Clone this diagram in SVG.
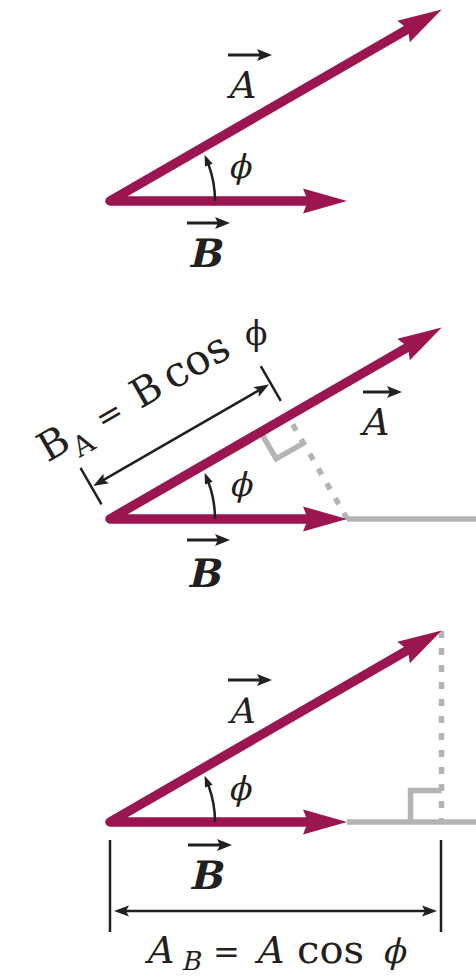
<svg xmlns="http://www.w3.org/2000/svg" xmlns:xlink="http://www.w3.org/1999/xlink" width="476" height="978" viewBox="0 0 476 978">
<style>
.vec{stroke:#9b1550;stroke-width:9.5;fill:none;stroke-linejoin:round;stroke-linecap:round}
.vh{fill:#9b1550}
.grey{stroke:#b4b4b4;stroke-width:5.5;fill:none}
.dash{stroke-dasharray:7 10}
.blk{stroke:#231f20;stroke-width:2.5;fill:none}
.sym{stroke:#231f20;stroke-width:3;fill:none}
.ah{fill:#231f20}
.t{font-family:'DejaVu Serif',serif;fill:#231f20}
.bd{font-weight:bold}
</style>
<defs>
<polygon id="vh" class="vh" points="0,0 -44,-12.5 -39,0 -44,12.5"/>
<polygon id="ah" class="ah" points="0,0 -15,-5.5 -12,0 -15,5.5"/>
<polygon id="sh" class="ah" points="0,0 -15,-6 -12,0 -15,6"/>
<g id="vectors">
<path class="vec" d="M298.8,-172.5 L0,0 L199,0"/>
<use xlink:href="#vh" transform="rotate(-30) translate(383,0)"/>
<use xlink:href="#vh" x="237" y="0"/>
</g>
<g id="angle">
<path class="blk" d="M105,0 A105 105 0 0 0 98.6,-36.2"/>
<polygon class="ah" points="94.6,-46.2 102.6,-37.2 95,-34.6"/>
</g>
</defs>

<!-- Panel 1 -->
<g id="panel1">
<g id="p1-connectors" transform="translate(110,201)">
<use xlink:href="#vectors"/>
<use xlink:href="#angle"/>
</g>
<g id="p1-labelA">
<line class="sym" x1="228" y1="55" x2="260" y2="55"/>
<use xlink:href="#sh" x="272" y="55"/>
<text class="t" transform="translate(227,98) skewX(-13)" font-size="37">A</text>
</g>
<g id="p1-phi"><text class="t" transform="translate(228,178) skewX(-13)" font-size="33">ϕ</text></g>
<g id="p1-labelB">
<line class="sym" x1="187" y1="223" x2="218" y2="223"/>
<use xlink:href="#sh" x="230" y="223"/>
<text class="t bd" transform="translate(188,267) skewX(-13)" font-size="39">B</text>
</g>
</g>

<!-- Panel 2 -->
<g id="panel2">
<g id="p2-connectors" transform="translate(110,519)">
<line class="grey" x1="237" y1="0" x2="370" y2="0"/>
<g transform="rotate(-30)">
<line class="grey dash" x1="205.5" y1="118.5" x2="205.5" y2="0"/>
<path class="grey" d="M174,0 V31 H205.5"/>
</g>
<use xlink:href="#vectors"/>
<use xlink:href="#angle"/>
<g transform="rotate(-30)">
<line class="blk" x1="0" y1="-59" x2="0" y2="-17"/>
<line class="blk" x1="207" y1="-57" x2="207" y2="-17"/>
<line class="blk" x1="12" y1="-37" x2="193" y2="-37"/>
<use xlink:href="#ah" transform="translate(205,-37)"/>
<use xlink:href="#ah" transform="translate(2,-37) rotate(180)"/>
</g>
</g>
<g id="p2-dimlabel" transform="translate(110,519) rotate(-30)">
<text class="t" x="-26" y="-80" font-size="40">B</text>
<text class="t" x="4" y="-68" font-size="28">A</text>
<text class="t" x="38" y="-80" font-size="32">=</text>
<text class="t" x="81" y="-80" font-size="40">B</text>
<text class="t" x="118" y="-80" font-size="42">cos</text>
</g>
<g id="p2-dimphi"><text class="t" x="245" y="345" font-size="33">ϕ</text></g>
<g id="p2-labelA">
<line class="sym" x1="363" y1="392" x2="390" y2="392"/>
<use xlink:href="#sh" x="402" y="392"/>
<text class="t" transform="translate(360,435) skewX(-13)" font-size="37">A</text>
</g>
<g id="p2-phi"><text class="t" transform="translate(229,496) skewX(-13)" font-size="33">ϕ</text></g>
<g id="p2-labelB">
<line class="sym" x1="187" y1="540" x2="218" y2="540"/>
<use xlink:href="#sh" x="230" y="540"/>
<text class="t bd" transform="translate(187,587) skewX(-13)" font-size="39">B</text>
</g>
</g>

<!-- Panel 3 -->
<g id="panel3">
<g id="p3-connectors" transform="translate(110,822)">
<line class="grey" x1="237" y1="0" x2="370" y2="0"/>
<line class="grey dash" x1="331.5" y1="-191" x2="331.5" y2="0"/>
<path class="grey" d="M300.5,0 V-31.5 H331.5"/>
<use xlink:href="#vectors"/>
<use xlink:href="#angle"/>
<line class="blk" x1="0" y1="18" x2="0" y2="110"/>
<line class="blk" x1="331" y1="18" x2="331" y2="110"/>
<line class="blk" x1="15" y1="89" x2="316" y2="89"/>
<use xlink:href="#ah" transform="translate(327,89)"/>
<use xlink:href="#ah" transform="translate(4,89) rotate(180)"/>
</g>
<g id="p3-labelA">
<line class="sym" x1="228" y1="680" x2="260" y2="680"/>
<use xlink:href="#sh" x="272" y="680"/>
<text class="t" transform="translate(228,723) skewX(-13)" font-size="35">A</text>
</g>
<g id="p3-phi"><text class="t" transform="translate(228,800) skewX(-13)" font-size="33">ϕ</text></g>
<g id="p3-labelB">
<line class="sym" x1="188" y1="845" x2="220" y2="845"/>
<use xlink:href="#sh" x="232" y="845"/>
<text class="t bd" transform="translate(189,889) skewX(-13)" font-size="39">B</text>
</g>
<g id="p3-dimlabel">
<text class="t" transform="translate(145,963) skewX(-13)" font-size="37">A</text>
<text class="t" transform="translate(181,970) skewX(-13)" font-size="26">B</text>
<text class="t" x="213" y="963" font-size="32">=</text>
<text class="t" transform="translate(255,963) skewX(-13)" font-size="37">A</text>
<text class="t" x="297" y="963" font-size="40">cos</text>
<text class="t" transform="translate(382,963) skewX(-13)" font-size="34">ϕ</text>
</g>
</g>
</svg>
